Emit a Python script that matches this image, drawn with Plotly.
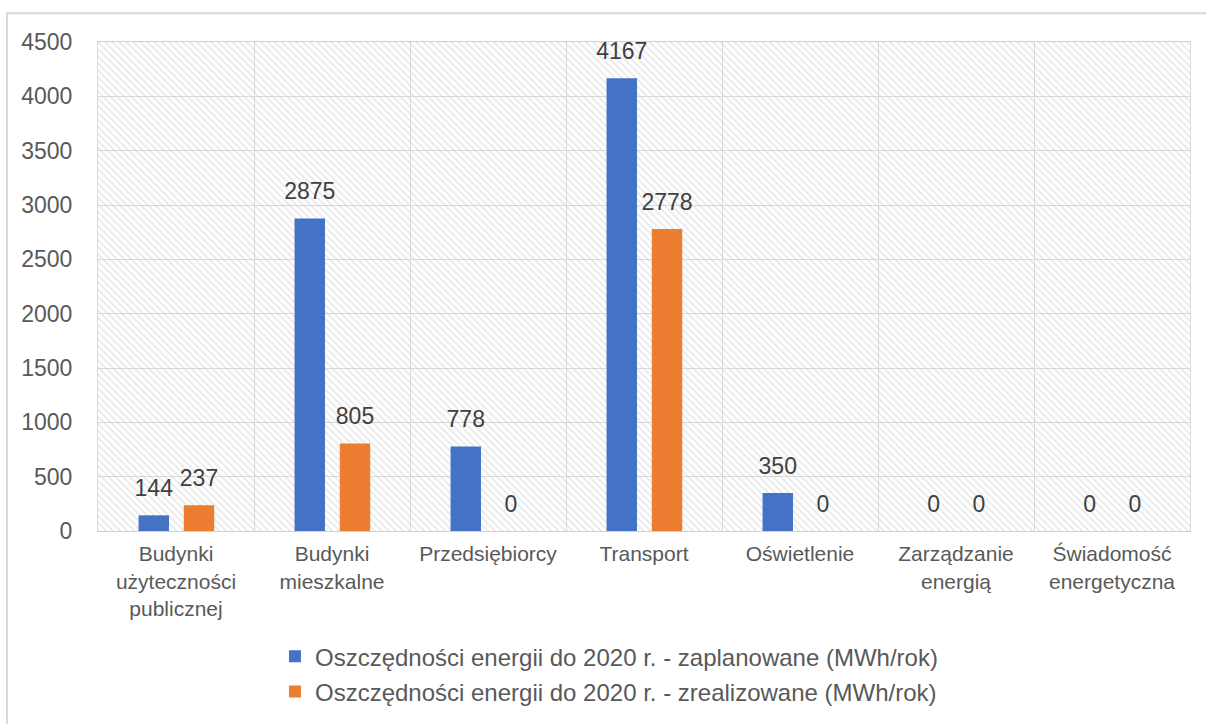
import plotly.graph_objects as go

categories = ["Budynki<br>użyteczności<br>publicznej", "Budynki<br>mieszkalne", "Przedsiębiorcy",
              "Transport", "Oświetlenie", "Zarządzanie<br>energią", "Świadomość<br>energetyczna"]
planned = [144, 2875, 778, 4167, 350, 0, 0]
realized = [237, 805, 0, 2778, 0, 0, 0]
name_planned = "Oszczędności energii do 2020 r. - zaplanowane (MWh/rok)"
name_realized = "Oszczędności energii do 2020 r. - zrealizowane (MWh/rok)"
y_max = 4500
y_ticks = [0, 500, 1000, 1500, 2000, 2500, 3000, 3500, 4000, 4500]

FONT = "Liberation Sans, Arial, sans-serif"
BLUE = "#4472C4"
ORANGE = "#ED7D31"
BAR_W = 0.195
OFF_PLANNED = -0.24
OFF_REALIZED = 0.05

fig = go.Figure()

# hatched plot-area background
fig.add_trace(go.Bar(
    x=categories, y=[y_max] * len(categories), width=1, offset=-0.5,
    marker=dict(color="rgba(0,0,0,0)", line=dict(width=0),
                pattern=dict(shape="\\", fgcolor="#d4d4d4", bgcolor="rgba(0,0,0,0)",
                             size=5, solidity=0.35)),
    hoverinfo="skip", showlegend=False,
))

fig.add_trace(go.Bar(
    x=categories, y=planned, name=name_planned, width=BAR_W, offset=OFF_PLANNED,
    marker=dict(color=BLUE, line=dict(width=0)), legendgroup="a",
))
fig.add_trace(go.Bar(
    x=categories, y=realized, name=name_realized, width=BAR_W, offset=OFF_REALIZED,
    marker=dict(color=ORANGE, line=dict(width=0)), legendgroup="b",
))

# data labels, placed over bar centres on an overlaid numeric axis
idx = list(range(len(categories)))
for vals, off in ((planned, OFF_PLANNED), (realized, OFF_REALIZED)):
    fig.add_trace(go.Scatter(
        x=[i + off + BAR_W / 2 for i in idx], y=vals, xaxis="x2", yaxis="y",
        mode="markers+text", text=[str(v) for v in vals], textposition="top center",
        marker=dict(size=20, opacity=0, color="white"),
        textfont=dict(size=23, color="#404040", family=FONT),
        cliponaxis=False, hoverinfo="skip", showlegend=False,
    ))

fig.update_layout(
    width=1206, height=724,
    margin=dict(l=98, r=16, t=42, b=193, autoexpand=False),
    barmode="overlay",
    paper_bgcolor="white", plot_bgcolor="white",
    font=dict(family=FONT, color="#595959", size=21),
    legend=dict(orientation="v", xref="container", yref="container",
                x=0.228, xanchor="left", y=0.124, yanchor="top",
                font=dict(size=24, color="#595959"), tracegroupgap=1,
                bgcolor="rgba(0,0,0,0)"),
    showlegend=True,
    shapes=[dict(type="rect", xref="paper", yref="paper",
                 x0=-0.0833, x1=1.05, y0=-0.5, y1=1.059,
                 line=dict(color="#d9d9d9", width=2), layer="below")],
    xaxis2=dict(overlaying="x", range=[-0.5, 6.5], visible=False, anchor="y"),
    xaxis=dict(
        type="category", tickson="boundaries", showgrid=True, gridcolor="#d9d9d9", gridwidth=1,
        showline=True, linecolor="#d0d0d0", mirror=True, ticks="",
        tickfont=dict(size=21, color="#595959"), ticklabelstandoff=4,
        range=[-0.5, 6.5], automargin=False,
    ),
    yaxis=dict(
        range=[0, y_max], tickvals=y_ticks, showgrid=True, gridcolor="#d9d9d9", gridwidth=1,
        showline=True, linecolor="#d9d9d9", mirror=True, ticks="", zeroline=False,
        tickfont=dict(size=23, color="#595959"), ticklabelstandoff=20, automargin=False,
    ),
)

fig.write_html("out.html", config={"displayModeBar": False},
               post_script="document.body.style.margin='0px';")
